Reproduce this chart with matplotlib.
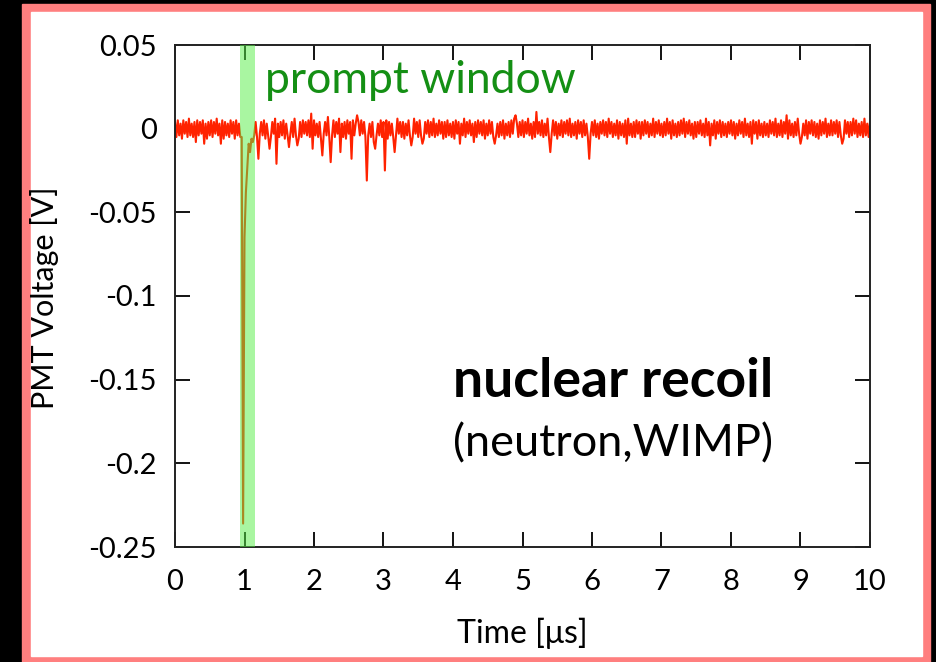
import numpy as np
import matplotlib.pyplot as plt
from matplotlib.patches import Rectangle

plt.rcParams['font.family'] = ['Lato', 'DejaVu Sans']

dt = 0.02

# baseline noise in mV, one value per sample
noise_mv = [
    4, -5, 5, -4, 3, -6, 5, -3, 4, -5, 6, -4, 3, -5, 4, -8, 5, -4, 4, -3, 5, -5, 3, -6, 4,
    -4, 5, -5, 4, -3, 6, -4, 3, -5, 5, -6, 4, -4, 3, -5, 5, -3, 4, -6, 5, -4, 3, -5, 4, -4,
    5, -3, 4, -5, 6, -4, 3, -8, 4, -5, 5, -3, 4, -4, 5, -6, 3, -4, 5, -5, 4, -3, 6, -4, 3,
    -5, 4, -4, 5, -6, 3, -4, 5, -3, 4, -5, 6, -4, 3, -6, 4, -5, 5, -3, 4, -4, 5, -5, 3, -4,
    5, -4, 3, -5, 4, -6, 5, -3, 4, -4, 7, -5, 3, -4, 5, -5, 4, -3, 6, -4, 3, -5, 4, -6, 5,
    -3, 4, -5, 5, -4, 3, -6, 4, -4, 5, -3, 4, -5, 6, -4, 3, -5, 4, -8, 5, -4, 3, -4, 5, -5,
    4, -3, 5, -6, 4, -4, 3, -5, 5, -4, 6, -3, 4, -5, 4, -6, 3, -4, 5, -4, 4, -5, 6, -3, 4,
    -5, 5, -4, 3, -6, 4, -3, 5, -5, 4, -4, 6, -5, 3, -4, 5, -3, 4, -6, 4, -5, 5, -4, 3, -5,
    4, -6, 5, -3, 4, -5, 3, -4, 6, -5, 4, -3, 5, -4, 3, -8, 4, -5, 5, -3, 4, -4, 5, -6, 3,
    -4, 5, -3, 4, -5, 6, -4, 3, -5, 4, -4, 5, -6, 3, -4, 4, -5, 5, -3, 6, -4, 3, -5, 4, -4,
    5, -5, 4, -3, 6, -4, 3, -6, 4, -5, 5, -3, 4, -4, 5, -5, 3, -4, 6, -5, 4, -3, 5, -4, 4,
    -6, 3, -4, 5, -5, 4, -3, 5, -4, 6, -5, 3, -4, 4, -6, 5, -3, 4, -5, 5, -4, 3, -5, 6, -3,
    4, -4, 5, -5, 3, -6, 4, -3, 5, -4, 4, -5, 6, -3, 4, -5, 3, -4, 5, -6, 4, -4, 3, -5, 5,
    -3, 6, -4, 3, -5, 4, -5, 5, -3, 4, -6, 4, -4, 5, -3, 4, -5, 3, -4, 6, -5, 4, -3, 5, -4,
    3, -5, 4, -4, 6, -3, 4, -6, 5, -4, 3, -5, 4, -4, 5, -3, 6, -5, 4, -3, 5, -4, 3, -6, 4,
    -5, 4, -3, 5, -4, 3, -5, 6, -4, 4, -5, 3, -4, 5, -6, 4, -3, 5, -5, 4, -4, 3, -5, 4, -3,
    5, -4, 4, -6, 3, -4, 5, -3, 4, -5, 6, -4, 3, -5, 4, -4, 5, -3, 4, -6, 5, -4, 3, -5, 4,
    -4, 3, -5, 5, -3, 4, -4, 6, -5, 3, -4, 5, -5, 4, -3, 4, -6, 5, -4, 3, -5, 4, -4, 6, -3,
    4, -5, 3, -4, 5, -6, 4, -3, 5, -4, 4, -5, 3, -6, 5, -4, 4, -3, 6, -5, 3, -4, 5, -4, 4,
    -3, 5, -5, 4, -4, 3, -6, 5, -3, 4, -5, 4, -4, 6, -3, 5, -5, 3, -4, 4, -5, 6, -4, 3, -5,
    4,
]

# the prompt pulse (times in us, mV)
pulse_t = [0.96, 0.98, 1.00, 1.02, 1.04, 1.06, 1.08, 1.10, 1.12, 1.14]
pulse_mv = [-5, -236, -65, -38, -23, -9, -14, -6, -8, -4]

# single photoelectron spikes in the tail (times in us, mV)
spike_t = [0.42, 0.66, 1.20, 1.36, 1.46, 1.64, 1.76, 1.96, 1.98, 2.12, 2.24, 2.38,
           2.54, 2.62, 2.76, 2.88, 3.02, 3.16, 3.40, 3.56, 4.10, 4.60, 4.90, 5.20,
           5.40, 5.96, 6.50, 7.70, 8.30, 8.80, 9.00, 9.60]
spike_mv = [-9, -9, -18, -12, -21, -11, -10, 9, -12, -16, -20, -14,
            -18, 8, -31, -12, -25, -14, -10, -9, -9, -9, 8, 10,
            -14, -18, -9, -10, -9, 8, -9, -9]

volt = np.array(noise_mv, dtype=float)
time = np.arange(len(volt)) * dt
for t, v in zip(pulse_t + spike_t, pulse_mv + spike_mv):
    i = int(round(t / dt))
    if i < len(volt):
        volt[i] = v
volt = volt / 1000.0

W, H = 937, 662
fig = plt.figure(figsize=(W / 100, H / 100), dpi=100, facecolor='black')

# salmon frame + white card behind the axes
fig.patches.append(Rectangle((22 / W, 0), (930 - 22) / W, 1 - 4 / H,
                             transform=fig.transFigure, color='#ff7f7f', zorder=-2))
fig.patches.append(Rectangle((31 / W, 1 - 656 / H), (922 - 31) / W, (656 - 12) / H,
                             transform=fig.transFigure, color='white', zorder=-1))

ax = fig.add_axes([175 / W, 1 - 547 / H, (870 - 175) / W, (547 - 45) / H])
ax.set_zorder(1)
ax.set_facecolor('white')

ax.plot(time, volt, color='#ff2200', lw=1.5, zorder=2)
ax.axvspan(0.93, 1.15, color='#55ee44', alpha=0.5, lw=0, zorder=3)

ax.set_xlim(0, 10)
ax.set_ylim(-0.25, 0.05)
ax.set_xticks(np.arange(0, 11, 1))
ax.set_yticks([0.05, 0, -0.05, -0.1, -0.15, -0.2, -0.25])
ax.set_yticklabels(['0.05', '0', '-0.05', '-0.1', '-0.15', '-0.2', '-0.25'])
ax.tick_params(direction='in', length=11, width=1.3, top=True, right=True,
               labelsize=21, colors='black')
ax.tick_params(axis='x', pad=16)
ax.tick_params(axis='y', pad=13)
for s in ax.spines.values():
    s.set_linewidth(1.4)
    s.set_color('#222222')

ax.text(1.29, 0.029, 'prompt window', color='#148f14', fontsize=32, va='center', ha='left')
ax.text(0.400, 0.33, 'nuclear recoil', transform=ax.transAxes, fontsize=38.5,
        fontweight='bold', ha='left', va='center')
ax.text(0.400, 0.205, '(neutron,WIMP)', transform=ax.transAxes, fontsize=32.5,
        ha='left', va='center')

fig.text(522 / W, 1 - 633 / H, 'Time [μs]', fontsize=23, ha='center', va='center')
fig.text(45 / W, 1 - 298 / H, 'PMT Voltage [V]', fontsize=22, ha='center', va='center',
         rotation=90)

plt.savefig('out.png', dpi=100, facecolor='black')
